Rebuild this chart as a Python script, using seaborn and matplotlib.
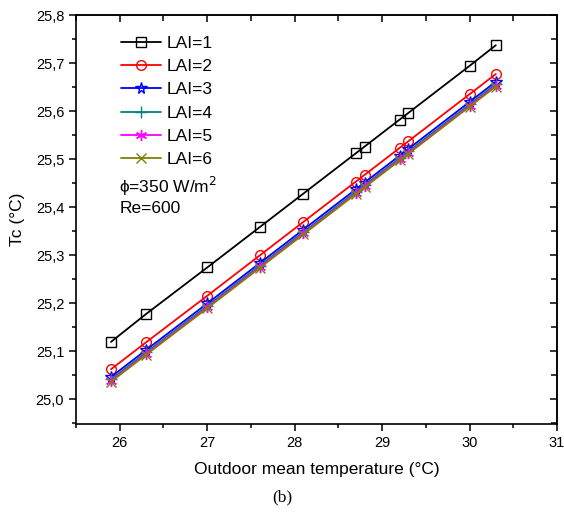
import matplotlib
matplotlib.use("Agg")
import matplotlib.pyplot as plt
import seaborn as sns
import pandas as pd
from matplotlib.ticker import MultipleLocator, FuncFormatter

x_temp = [25.9, 26.3, 27.0, 27.6, 28.1, 28.7, 28.8, 29.2, 29.3, 30.0, 30.3]
lai1 = [25.119, 25.177, 25.274, 25.358, 25.428, 25.512, 25.526, 25.582, 25.596, 25.694, 25.737]
lai2 = [25.062, 25.118, 25.215, 25.299, 25.369, 25.453, 25.467, 25.523, 25.537, 25.635, 25.677]
lai3 = [25.046, 25.102, 25.199, 25.283, 25.353, 25.437, 25.451, 25.507, 25.521, 25.619, 25.661]
lai4 = [25.041, 25.097, 25.194, 25.278, 25.348, 25.432, 25.446, 25.502, 25.516, 25.614, 25.656]
lai5 = [25.038, 25.094, 25.191, 25.275, 25.345, 25.429, 25.443, 25.499, 25.513, 25.611, 25.653]
lai6 = [25.036, 25.092, 25.189, 25.273, 25.343, 25.427, 25.441, 25.497, 25.511, 25.609, 25.651]
labels = ["LAI=1", "LAI=2", "LAI=3", "LAI=4", "LAI=5", "LAI=6"]
series = [lai1, lai2, lai3, lai4, lai5, lai6]

colors = ["black", "red", "blue", "#008080", "#ff00ff", "#808000"]
markers = ["s", "o", "*", "+", (6, 2, 0), "x"]
msizes = [6.5, 7, 8.5, 8, 8, 7]

sns.set_style("ticks")
plt.rcParams["font.family"] = ["Liberation Sans", "DejaVu Sans"]
plt.rcParams["text.color"] = "black"
plt.rcParams["axes.labelcolor"] = "black"
plt.rcParams["xtick.color"] = "black"
plt.rcParams["ytick.color"] = "black"

fig = plt.figure(figsize=(5.64, 5.12), dpi=100)
ax = fig.add_axes([0.1348, 0.1719, 0.9876 - 0.1348, 0.9707 - 0.1719])

for lab, ys, c, m, ms in zip(labels, series, colors, markers, msizes):
    df = pd.DataFrame({"x": x_temp, "y": ys})
    sns.lineplot(data=df, x="x", y="y", ax=ax, color=c, marker=m, markersize=ms,
                 markerfacecolor="none" if m in ("s", "o", "*") else c,
                 markeredgecolor=c, markeredgewidth=1.0, linewidth=1.3, label=lab)

ax.set_xlim(25.5, 31)
ax.set_ylim(24.948, 25.8)
ax.xaxis.set_major_locator(MultipleLocator(1))
ax.xaxis.set_minor_locator(MultipleLocator(0.5))
ax.yaxis.set_major_locator(MultipleLocator(0.1))
ax.yaxis.set_minor_locator(MultipleLocator(0.05))
ax.yaxis.set_major_formatter(FuncFormatter(lambda v, p: f"{v:.1f}".replace(".", ",")))
ax.xaxis.set_major_formatter(FuncFormatter(lambda v, p: f"{v:.0f}"))

for s in ax.spines.values():
    s.set_visible(True)
    s.set_linewidth(1.2)
    s.set_color("black")

ax.tick_params(axis="both", which="major", direction="out", length=5, width=1.1,
               labelsize=10.5, colors="black")
ax.tick_params(axis="both", which="minor", direction="out", length=3, width=1.1)
# top/right inward ticks
axt = ax.secondary_xaxis("top")
axt.xaxis.set_major_locator(MultipleLocator(1))
axt.xaxis.set_minor_locator(MultipleLocator(0.5))
axt.tick_params(which="major", direction="in", length=5, width=1.1, labeltop=False)
axt.tick_params(which="minor", direction="in", length=4, width=1.1)
axt.spines["top"].set_linewidth(1.2)
axr = ax.secondary_yaxis("right")
axr.yaxis.set_major_locator(MultipleLocator(0.1))
axr.yaxis.set_minor_locator(MultipleLocator(0.05))
axr.tick_params(which="major", direction="in", length=5, width=1.1, labelright=False)
axr.tick_params(which="minor", direction="in", length=4, width=1.1)
axr.spines["right"].set_linewidth(1.2)

ax.set_xlabel("Outdoor mean temperature (°C)", fontsize=12.5, labelpad=9, color="black")
ax.set_ylabel("Tc (°C)", fontsize=12.5, labelpad=8, color="black")

leg = ax.legend(loc="upper left", bbox_to_anchor=(0.072, 0.975), frameon=False,
                fontsize=12.5, handlelength=2.3, handletextpad=0.35, labelspacing=0.47,
                borderaxespad=0.2)
for t in leg.get_texts():
    t.set_color("black")

ax.text(0.09, 0.582, "ϕ=350 W/m$^2$", transform=ax.transAxes, fontsize=12.5,
        va="center", ha="left", color="black")
ax.text(0.09, 0.528, "Re=600", transform=ax.transAxes, fontsize=12.5,
        va="center", ha="left", color="black")

fig.text(0.5, 0.028, "(b)", ha="center", va="center", fontsize=12.5, color="black",
         family=["Liberation Serif", "DejaVu Serif"])

fig.savefig("out.png", dpi=100)
